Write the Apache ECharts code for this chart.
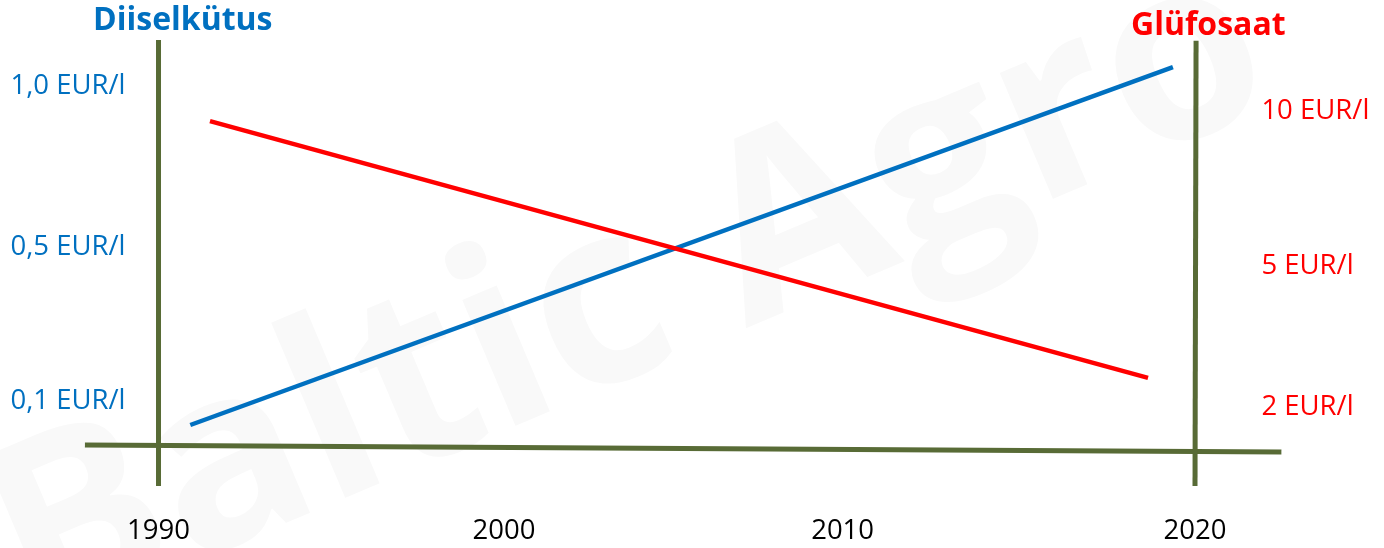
<!DOCTYPE html>
<html>
<head>
<meta charset="utf-8">
<script src="https://cdn.jsdelivr.net/npm/echarts@6/dist/echarts.min.js"></script>
<style>
  html, body { margin: 0; padding: 0; background: #fff; }
  #chart { width: 1384px; height: 548px; }
</style>
</head>
<body>
<div id="chart"></div>
<script>
// schematic chart: y is a "level" scale (0..100), labels sit on chosen levels
var diiselLine = [[1990.92, 5.4], [2019.36, 92.9]]
var glyfosaatLine = [[1991.49, 79.7], [2018.64, 16.9]]

// hand drawn axis frame
var baseLine = [[1987.87, 0.5], [2022.5, -1.2]]
var leftPost = [[1990, 99.5], [1990, -9.5]]
var rightPost = [[2020.03, 99.3], [2020, -9.5]]

var yearTickPos = [1990, 2000, 2009.8, 2020]
var yearTickText = ['1990', '2000', '2010', '2020']

var diiselTickPos = [88.3, 48.8, 11.3]
var diiselTickText = ['1,0 EUR/l', '0,5 EUR/l', '0,1 EUR/l']

var glyfTickPos = [82.0, 44.3, 9.8]
var glyfTickText = ['10 EUR/l', '5 EUR/l', '2 EUR/l']

var blue = '#0070C0'
var red = '#FF0000'
var olive = '#586B36'
var font = '"Open Sans", "Noto Sans", sans-serif'

function pick (pos, text) {
    return function (v) {
        for (var i = 0; i < pos.length; i++) {
            if (Math.abs(pos[i] - v) < 0.01) return text[i]
        }
        return ''
    }
}

var chart = echarts.init(document.getElementById('chart'))
var option = {
    animation: false,
    backgroundColor: '#fff',
    textStyle: { fontFamily: font },
    graphic: [
        {   // faint watermark
            type: 'text',
            x: 630,
            y: 300,
            rotation: 0.4,
            z: -10,
            style: {
                text: 'Baltic Agro',
                font: 'bold 250px ' + font,
                fill: '#f9f9f9',
                align: 'center',
                verticalAlign: 'middle'
            }
        }
    ],
    title: [
        {
            text: 'Diiselkütus',
            left: 88,
            top: 0,
            textStyle: { color: blue, fontSize: 32, fontWeight: 'bold', fontFamily: font }
        },
        {
            text: 'Glüfosaat',
            left: 1126,
            top: 5,
            textStyle: { color: red, fontSize: 32, fontWeight: 'bold', fontFamily: font }
        }
    ],
    grid: { left: 82.5, right: 102.6, top: 38, bottom: 60, containLabel: false },
    xAxis: {
        type: 'value',
        min: 1987.8,
        max: 2022.5,
        axisLine: { show: false },
        axisTick: { show: false },
        splitLine: { show: false },
        axisLabel: {
            customValues: yearTickPos,
            formatter: pick(yearTickPos, yearTickText),
            color: '#000',
            fontSize: 27.5,
            fontFamily: font,
            margin: 29
        }
    },
    yAxis: [
        {
            type: 'value',
            position: 'left',
            min: -10,
            max: 100,
            axisLine: { show: false },
            axisTick: { show: false },
            splitLine: { show: false },
            axisLabel: {
                customValues: diiselTickPos,
                formatter: pick(diiselTickPos, diiselTickText),
                color: blue,
                fontSize: 27.5,
                fontFamily: font,
                align: 'left',
                margin: 72
            }
        },
        {
            type: 'value',
            position: 'right',
            min: -10,
            max: 100,
            axisLine: { show: false },
            axisTick: { show: false },
            splitLine: { show: false },
            axisLabel: {
                customValues: glyfTickPos,
                formatter: pick(glyfTickPos, glyfTickText),
                color: red,
                fontSize: 27.5,
                fontFamily: font,
                align: 'left',
                margin: -20
            }
        }
    ],
    series: [
        { type: 'line', data: baseLine, showSymbol: false, silent: true, lineStyle: { color: olive, width: 5 } },
        { type: 'line', data: leftPost, showSymbol: false, silent: true, lineStyle: { color: olive, width: 5 } },
        { type: 'line', data: rightPost, showSymbol: false, silent: true, lineStyle: { color: olive, width: 5 } },
        { name: 'Diiselkütus', type: 'line', data: diiselLine, showSymbol: false, lineStyle: { color: blue, width: 4.5 } },
        { name: 'Glüfosaat', type: 'line', data: glyfosaatLine, showSymbol: false, lineStyle: { color: red, width: 4.5 } }
    ]
}
chart.setOption(option)
</script>
</body>
</html>
